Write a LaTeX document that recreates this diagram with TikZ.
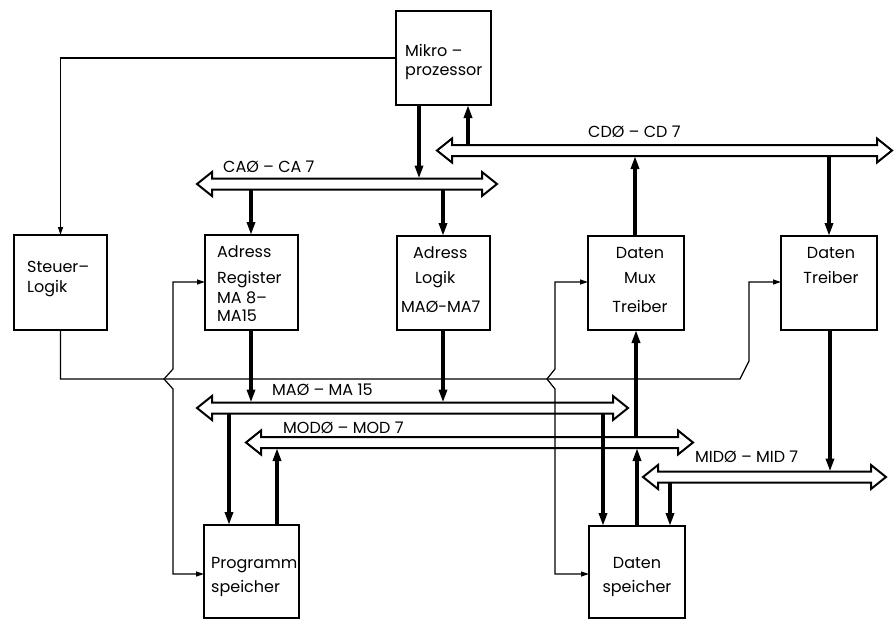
\documentclass[tikz,border=0pt]{standalone}
\usepackage{fontspec}
\setmainfont{Poppins}
\usetikzlibrary{arrows.meta}
\newcommand\busdraw[4]{%
  \draw[bus] (#2,#4) -- (#2+15,#4-12) -- (#2+15,#4-5.5) -- (#3-15,#4-5.5) -- (#3-15,#4-12) -- (#3,#4)
    -- (#3-15,#4+12) -- (#3-15,#4+5.5) -- (#2+15,#4+5.5) -- (#2+15,#4+12) -- cycle;
  \coordinate (#1T) at (#2,#4-5.5);
  \coordinate (#1B) at (#2,#4+5.5);}
\begin{document}
\begin{tikzpicture}[x=1pt,y=-1pt,
  box/.style={draw, line width=2.2pt, inner sep=0pt, outer sep=0pt, anchor=north west},
  lbl/.style={font=\fontsize{16}{18}\selectfont, inner sep=0pt},
  thk/.style={line width=3.2pt, -{Triangle[length=13pt,width=8pt]}},
  thin/.style={line width=1.2pt},
  thinarr/.style={thin, -{Triangle[length=8pt,width=5pt]}},
  biarr/.style={thin, {Triangle[length=8pt,width=5pt]}-{Triangle[length=8pt,width=5pt]}},
  bus/.style={line width=2pt, line join=miter}]
\useasboundingbox (0,0) rectangle (896,621);

% boxes
\node[box, minimum width=95pt, minimum height=94pt] (mikro) at (396,11) {};
\node[box, minimum width=93pt, minimum height=95pt] (steuer) at (14,235) {};
\node[box, minimum width=93pt, minimum height=95pt] (adreg) at (205,235) {};
\node[box, minimum width=93pt, minimum height=94pt] (adlog) at (397,236) {};
\node[box, minimum width=96pt, minimum height=94pt] (dmux) at (588,236) {};
\node[box, minimum width=96pt, minimum height=94pt] (dtreib) at (781,236) {};
\node[box, minimum width=95pt, minimum height=93pt] (prog) at (204,525) {};
\node[box, minimum width=96pt, minimum height=92pt] (dspei) at (589,526) {};

% box texts
\node[lbl, anchor=base west] (tmk1) at (405,56) {Mikro –};
\node[lbl, anchor=base west] (tmk2) at (405,75) {prozessor};
\node[lbl, anchor=base west] (tst1) at (27,272) {Steuer–};
\node[lbl, anchor=base west] (tst2) at (27,292) {Logik};
\node[lbl, anchor=base west] (tar1) at (217,257) {Adress};
\node[lbl, anchor=base west] (tar2) at (217,283) {Register};
\node[lbl, anchor=base west] (tar3) at (217,303) {MA 8–};
\node[lbl, anchor=base west] (tar4) at (217,321) {MA15};
\node[lbl, anchor=base west] (tal1) at (413,258) {Adress};
\node[lbl, anchor=base west] (tal2) at (415,283) {Logik};
\node[lbl, anchor=base west] (tal3) at (401,312) {MAØ-MA7};
\node[lbl, anchor=base] (tdm1) at (640,258) {Daten};
\node[lbl, anchor=base] (tdm2) at (640,283) {Mux};
\node[lbl, anchor=base] (tdm3) at (640,312) {Treiber};
\node[lbl, anchor=base] (tdt1) at (831,258) {Daten};
\node[lbl, anchor=base] (tdt2) at (831,283) {Treiber};
\node[lbl, anchor=base west] (tps1) at (211,568) {Programm};
\node[lbl, anchor=base west] (tps2) at (211,592) {speicher};
\node[lbl, anchor=base] (tds1) at (637,568) {Daten};
\node[lbl, anchor=base] (tds2) at (637,592) {speicher};

% buses
\busdraw{cd}{437}{892}{150.5}
\busdraw{ca}{197}{497}{184}
\busdraw{ma}{197}{628}{408}
\busdraw{mod}{246}{693}{442.5}
\busdraw{mid}{643}{886}{477}

% bus labels
\node[lbl, anchor=base west] (lca) at (223,172) {CAØ – CA 7};
\node[lbl, anchor=base west] (lcd) at (588,137) {CDØ – CD 7};
\node[lbl, anchor=base west] (lma) at (272,395) {MAØ – MA 15};
\node[lbl, anchor=base west] (lmod) at (283,433) {MODØ – MOD 7};
\node[lbl, anchor=base west] (lmid) at (695,462) {MIDØ – MID 7};

% control lines
\draw[thinarr] (mikro.west |- 0,58) -| (steuer.north);
\draw[thinarr] (steuer.south) |- (740,379) -- (749,361) |- (dtreib.west |- 0,282);
\draw[biarr] (adreg.west |- 0,282) -- (173,282) -- (173,369) -- (164,379) -- (173,389) -- (173,574) -- (prog.west |- 0,574);
\draw[biarr] (dmux.west |- 0,282) -- (555,282) -- (555,369) -- (547,379) -- (555,389) -- (555,574) -- (dspei.west |- 0,574);

% data / address lines
\draw[thk] (mikro.south -| 419,0) -- (419,0 |- caT);
\draw[thk] (468,0 |- cdT) -- (mikro.south -| 468,0);
\draw[thk] (251,0 |- caB) -- (adreg.north -| 251,0);
\draw[thk] (443,0 |- caB) -- (adlog.north -| 443,0);
\draw[thk] (dmux.north -| 635,0) -- (635,0 |- cdB);
\draw[thk] (829,0 |- cdB) -- (dtreib.north -| 829,0);
\draw[thk] (adreg.south -| 251,0) -- (251,0 |- maT);
\draw[thk] (adlog.south -| 443,0) -- (443,0 |- maT);
\draw[thk] (636,0 |- modT) -- (dmux.south -| 636,0);
\draw[thk] (229,0 |- maB) -- (prog.north -| 229,0);
\draw[thk] (prog.north -| 277,0) -- (277,0 |- modB);
\draw[thk] (603,0 |- maB) -- (dspei.north -| 603,0);
\draw[thk] (dspei.north -| 637,0) -- (637,0 |- modB);
\draw[thk] (670,0 |- midB) -- (dspei.north -| 670,0);
\draw[thk] (dtreib.south -| 830,0) -- (830,0 |- midT);
\end{tikzpicture}
\end{document}
